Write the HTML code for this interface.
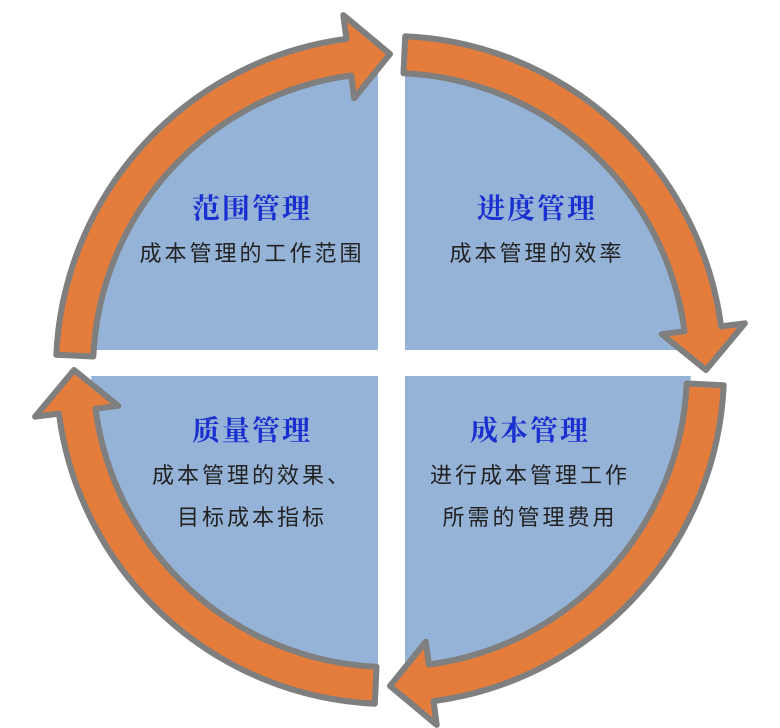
<!DOCTYPE html>
<html><head><meta charset="utf-8"><style>
html,body{margin:0;padding:0;background:#fff;}
svg{display:block}
.h{font-family:"Liberation Serif","Noto Serif CJK SC",serif;font-weight:bold;font-size:28px;fill:#1a2fd0;text-anchor:middle;letter-spacing:2px}
.b{font-family:"Liberation Sans","Noto Sans CJK SC",sans-serif;font-size:22px;fill:#222;text-anchor:middle;letter-spacing:3px}
</style></head><body>
<svg id="s" width="780" height="728" viewBox="0 0 780 728" xmlns="http://www.w3.org/2000/svg">
<circle cx="391" cy="366" r="300" fill="#95b3d7"/>
<rect x="378" y="0" width="27" height="728" fill="#fff"/>
<rect x="0" y="350" width="780" height="26" fill="#fff"/>
<g id="arrows"></g>
<text class="h" x="252" y="218">范围管理</text>
<text class="b" x="252" y="261">成本管理的工作范围</text>
<text class="h" x="537" y="218">进度管理</text>
<text class="b" x="537" y="261">成本管理的效率</text>
<text class="h" x="252" y="440">质量管理</text>
<text class="b" x="252" y="483">成本管理的效果、</text>
<text class="b" x="252" y="525">目标成本指标</text>
<text class="h" x="530" y="440">成本管理</text>
<text class="b" x="530" y="483">进行成本管理工作</text>
<text class="b" x="530" y="525">所需的管理费用</text>
</svg>
<script>
(function(){
var cx=390,cy=370,Ro=334,Ri=297,Rm=316,Hi=274,Ho=358;
function p(r,a){a=a*Math.PI/180;return (cx+r*Math.sin(a)).toFixed(1)+","+(cy-r*Math.cos(a)).toFixed(1);}
var g=document.getElementById("arrows"),h="";
for(var q=0;q<4;q++){
 var a0=q*90+2.6,at=q*90+90,ab=at-7.5;
 var d="M"+p(Ro,a0)+" A"+Ro+","+Ro+" 0 0 1 "+p(Ro,ab)+" L"+p(Ho,ab)+" L"+p(Rm,at)+" L"+p(Hi,ab)+" L"+p(Ri,ab)+" A"+Ri+","+Ri+" 0 0 0 "+p(Ri,a0)+" Z";
 h+='<path d="'+d+'" fill="#e47c3c" stroke="#7f7f7f" stroke-width="6" stroke-linejoin="round"/>';
}
g.innerHTML=h;
})();
</script>
</body></html>
